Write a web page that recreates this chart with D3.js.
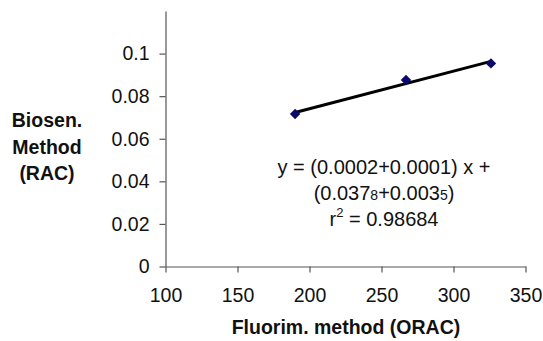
<!DOCTYPE html>
<html><head><meta charset="utf-8">
<script src="https://cdn.jsdelivr.net/npm/d3@7"></script>
<style>
html,body{margin:0;padding:0;background:#fff;}
svg{display:block;font-family:"Liberation Sans",Arial,Helvetica,sans-serif;}
</style></head>
<body>
<svg id="chart" width="543" height="341"></svg>
<script>
// Data
const orac = [190, 267, 326];          // Fluorim. method (ORAC)
const rac = [0.0716, 0.0876, 0.0954];  // Biosen. method (RAC)
const xTicks = [100, 150, 200, 250, 300, 350];
const yTicks = [0, 0.02, 0.04, 0.06, 0.08, 0.1];
const yTickLabels = ["0", "0.02", "0.04", "0.06", "0.08", "0.1"];
const xTitle = "Fluorim. method (ORAC)";
const yTitle = ["Biosen.", "Method", "(RAC)"];

const svg = d3.select("#chart");
const x = d3.scaleLinear().domain([100, 350]).range([165.5, 525.5]);
const y = d3.scaleLinear().domain([0, 0.12]).range([266.5, 11]);
const axisColor = "#555";

// axes
const gx = svg.append("g").attr("transform", `translate(0,${y(0)})`)
  .call(d3.axisBottom(x).tickValues(xTicks).tickSize(6).tickSizeOuter(0).tickPadding(16).tickFormat(d3.format("d")));
const gy = svg.append("g").attr("transform", `translate(${x(100)},0)`)
  .call(d3.axisLeft(y).tickValues(yTicks).tickSize(6).tickSizeOuter(0).tickPadding(10)
    .tickFormat((d, i) => yTickLabels[i]));
[gx, gy].forEach(g => {
  g.select(".domain").attr("stroke", axisColor).attr("stroke-width", 1.2);
  g.selectAll(".tick line").attr("stroke", axisColor).attr("stroke-width", 1.2);
  g.selectAll(".tick text").attr("fill", "#111").style("font-size", "19.5px")
    .style("font-family", '"Liberation Sans",Arial,sans-serif');
});

// regression (least squares from data)
const mx = d3.mean(orac), my = d3.mean(rac);
const slope = d3.sum(orac, (v, i) => (v - mx) * (rac[i] - my)) / d3.sum(orac, v => (v - mx) ** 2);
const icpt = my - slope * mx;
const [x0, x1] = d3.extent(orac);
svg.append("line")
  .attr("x1", x(x0)).attr("y1", y(icpt + slope * x0))
  .attr("x2", x(x1)).attr("y2", y(icpt + slope * x1))
  .attr("stroke", "#000").attr("stroke-width", 3);

// markers
svg.selectAll("path.pt").data(orac).enter().append("path")
  .attr("class", "pt")
  .attr("d", d3.symbol(d3.symbolDiamond2, 70)())
  .attr("transform", (d, i) => `translate(${x(d)},${y(rac[i])})`)
  .attr("fill", "#0a0a6e");

// y title
svg.append("text").attr("x", 47).attr("y", 127).attr("text-anchor", "middle")
  .style("font-size", "19.5px").style("font-weight", "bold").attr("fill", "#111")
  .selectAll("tspan").data(yTitle).enter().append("tspan")
  .attr("x", 47).attr("dy", (d, i) => i === 0 ? 0 : 26.5).text(d => d);

// x title
svg.append("text").attr("x", 346).attr("y", 334).attr("text-anchor", "middle")
  .style("font-size", "19.5px").style("font-weight", "bold").attr("fill", "#111")
  .text(xTitle);

// equation
const eq = svg.append("text").attr("text-anchor", "middle").attr("fill", "#111").style("font-size", "20px");
eq.append("tspan").attr("x", 384).attr("y", 174).text("y = (0.0002+0.0001) x +");
const l2 = eq.append("tspan").attr("x", 384).attr("y", 200);
l2.append("tspan").text("(0.037");
l2.append("tspan").style("font-size", "14px").text("8");
l2.append("tspan").text("+0.003");
l2.append("tspan").style("font-size", "14px").text("5");
l2.append("tspan").text(")");
const l3 = eq.append("tspan").attr("x", 384).attr("y", 226);
l3.append("tspan").text("r");
l3.append("tspan").style("font-size", "13px").attr("dy", -9).text("2");
l3.append("tspan").attr("dy", 9).text(" = 0.98684");
</script>
</body></html>
